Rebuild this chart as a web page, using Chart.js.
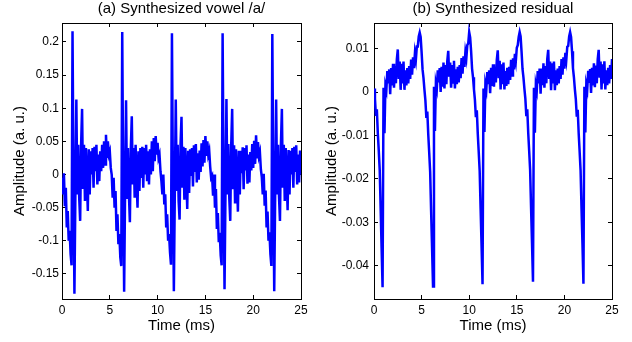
<!DOCTYPE html>
<html>
<head>
<meta charset="utf-8">
<script src="https://cdn.jsdelivr.net/npm/chart.js@4.4.1/dist/chart.umd.min.js"></script>
<style>
html,body{margin:0;padding:0;background:#fff;overflow:hidden}
#wrap{position:relative;width:632px;height:342px}
canvas{position:absolute;top:0}
</style>
</head>
<body>
<div id="wrap">
<canvas id="cA" width="316" height="342" style="left:0"></canvas>
<canvas id="cB" width="316" height="342" style="left:316px"></canvas>
</div>
<script>
// ---- sampling grid (ms) ----
const sampleStepMs = 0.1;
const sampleCount = 251; // 0 .. 25 ms

// ---- (a) synthesized vowel /a/ : one array per pitch period ----
const vowelP1 = [-0.005,-0.03,0.002,-0.048,-0.02,-0.08,-0.055,-0.1,-0.085,-0.12,-0.137,
  0.216,0.0,-0.18,-0.03,0.113,-0.03,0.045,-0.035,-0.07,0.045,0.099,
  -0.02,0.045,-0.04,0.04,-0.005,-0.055,0.038,-0.03,0.035,0.0,0.04,-0.02,0.042,0.005,0.045,-0.015,0.03,-0.01,0.035,0.005,0.045,0.01,0.05,0.015,0.06,0.025,0.05,0.03,0.035,0.01];
const vowelP2 = [0.0,-0.035,-0.005,-0.05,-0.025,-0.085,-0.06,-0.105,-0.09,-0.125,-0.138,
  0.215,-0.01,-0.177,-0.025,0.112,-0.035,0.04,-0.03,-0.072,0.04,0.088,
  -0.015,0.04,-0.035,0.045,-0.01,-0.05,0.035,-0.025,0.04,-0.005,0.042,-0.02,0.04,0.0,0.045,-0.01,0.035,-0.015,0.038,0.0,0.05,0.005,0.055,0.02,0.058,0.03,0.048,0.025,0.03,0.005];
const vowelP3 = [-0.01,-0.03,0.0,-0.045,-0.03,-0.08,-0.06,-0.1,-0.09,-0.118,-0.136,
  0.213,-0.005,-0.176,-0.03,0.113,-0.025,0.045,-0.04,-0.068,0.045,0.087,
  -0.02,0.042,-0.038,0.04,0.0,-0.052,0.036,-0.028,0.038,-0.002,0.04,-0.018,0.044,0.004,0.046,-0.012,0.032,-0.008,0.036,0.004,0.047,0.012,0.052,0.018,0.058,0.028,0.05,0.03,0.036,0.012,-0.005];
const vowelP4 = [-0.002,-0.032,0.0,-0.05,-0.022,-0.082,-0.058,-0.102,-0.088,-0.122,-0.137,
  0.213,0.0,-0.173,-0.028,0.114,-0.03,0.046,-0.036,-0.07,0.044,0.099,
  -0.022,0.044,-0.042,0.038,-0.006,-0.056,0.036,-0.03,0.036,0.002,0.041,-0.022,0.04,0.006,0.044,-0.014,0.03,-0.012,0.034,0.006,0.046,0.01,0.051,0.016,0.059,0.026,0.049,0.028,0.034,0.008];
const vowelP5 = [-0.004,-0.03,0.001,-0.047,-0.024,-0.08,-0.056,-0.1,-0.087,-0.12,-0.138,
  0.212,-0.004,-0.176,-0.03,0.113,-0.03,0.045,-0.034,-0.07,0.045,0.099,
  -0.02,0.045,-0.04,0.04,-0.004,-0.054,0.037,-0.03,0.036,0.0,0.04,-0.02,0.042,0.004,0.044,-0.015,0.03,-0.012,0.036,0.0];

// ---- (b) synthesized residual : one array per pitch period ----
const residP1 = [0.0008,-0.0015,-0.0055,-0.004,-0.0095,-0.0135,-0.018,-0.027,-0.036,
  -0.045,
  0.001,-0.0095,0.0015,0.0005,0.0048,0.002,0.0052,-0.0005,0.0055,0.0015,0.0065,0.001,0.006,0.002,0.0075,0.0098,0.003,0.007,0.0005,0.0065,0.002,0.007,0.0005,0.005,0.0015,0.0055,0.002,0.006,0.003,0.0075,0.004,0.008,0.0055,0.009,0.0075,0.0105,0.0105,0.0128];
const residP2 = [0.0137,0.0127,0.0092,0.0052,0.0032,0.0005,-0.002,-0.006,-0.0045,-0.0098,-0.014,-0.0185,-0.0275,-0.036,
  -0.0448,
  0.0012,-0.009,0.002,0.0008,0.005,0.0022,0.0055,0.0,0.0058,0.0012,0.0068,0.0008,0.0062,0.0018,0.0072,0.0095,0.0035,0.0068,0.001,0.0062,0.0022,0.0072,0.0008,0.0052,0.0018,0.0058,0.0022,0.0062,0.0032,0.0078,0.0042,0.0082,0.0058,0.0092,0.0078,0.0108,0.0112];
const residP3 = [0.0138,0.0126,0.0094,0.0054,0.0034,0.0006,-0.0018,-0.0058,-0.0042,-0.0096,-0.0138,-0.0182,-0.027,-0.0355,
  -0.0443,
  0.0008,-0.0092,0.0018,0.0006,0.0046,0.0018,0.005,-0.0003,0.0056,0.0014,0.0064,0.0012,0.0058,0.0022,0.0074,0.0096,0.0032,0.0072,0.0006,0.0064,0.0018,0.0068,0.0006,0.0048,0.0014,0.0056,0.0018,0.0058,0.0028,0.0074,0.0038,0.0078,0.0052,0.0088,0.0072,0.0102,0.0108,0.0127];
const residP4 = [0.0138,0.0128,0.0093,0.0053,0.0033,0.0007,-0.0016,-0.0056,-0.004,-0.0094,-0.0136,-0.018,-0.0268,-0.035,
  -0.0437,
  0.001,-0.0094,0.0016,0.0004,0.0048,0.002,0.0054,-0.0004,0.0054,0.0016,0.0066,0.001,0.006,0.002,0.0076,0.0097,0.003,0.007,0.0004,0.0066,0.002,0.007,0.0004,0.005,0.0016,0.0054,0.002,0.006,0.003,0.0076,0.004,0.008,0.0054,0.009,0.0074,0.0104,0.0106,0.0128];
const residP5 = [0.0138,0.0127,0.0094,0.0055,0.0034,0.0006,-0.0017,-0.0057,-0.0041,-0.0095,-0.0137,-0.0181,-0.027,-0.0352,
  -0.0442,
  0.0012,-0.0093,0.0017,0.0006,0.0049,0.0021,0.0053,-0.0002,0.0056,0.0015,0.0066,0.0011,0.0061,0.002,0.0075,0.0097,0.0033,0.007,0.0006,0.0064,0.002,0.0071,0.0006,0.005,0.0016,0.0056,0.002,0.0062,0.003,0.0076];

// ---- tick labels ----
const xTicks = [0, 5, 10, 15, 20, 25];
const yTicksA = [-0.15, -0.1, -0.05, 0, 0.05, 0.1, 0.15, 0.2];
const yTicksB = [-0.04, -0.03, -0.02, -0.01, 0, 0.01];

const vowel = [].concat(vowelP1, vowelP2, vowelP3, vowelP4, vowelP5);
const resid = [].concat(residP1, residP2, residP3, residP4, residP5);
const timeMs = Array.from({length: sampleCount}, (_, i) => +(i * sampleStepMs).toFixed(2));

const FONT = "'Liberation Sans', Arial, Helvetica, sans-serif";

function tickGrid() {
  return {display: true, drawOnChartArea: false, drawTicks: true, tickLength: -4, color: '#000', lineWidth: 1};
}

function makeChart(id, cfg) {
  const data = timeMs.map((t, i) => ({x: t, y: cfg.values[i]}));
  const setX = s => { s.ticks = xTicks.map(v => ({value: v})); };
  const setY = s => { s.ticks = cfg.yTicks.map(v => ({value: v})); };
  return new Chart(document.getElementById(id), {
    type: 'line',
    data: {datasets: [{data, xAxisID: 'x', yAxisID: 'y', borderColor: '#0000ff', borderWidth: 2.5, pointRadius: 0, tension: 0, fill: false}]},
    options: {
      responsive: false,
      animation: false,
      devicePixelRatio: 1,
      layout: {padding: {left: 0, right: cfg.padRight, top: 0, bottom: 0}},
      plugins: {
        legend: {display: false},
        tooltip: {enabled: false},
        title: {display: true, text: cfg.title, fullSize: false, color: '#000',
          font: {family: FONT, size: 15, weight: 'normal'}, padding: {top: 0, bottom: 5}}
      },
      scales: {
        x: {
          type: 'linear', position: 'bottom', min: 0, max: 25,
          afterBuildTicks: setX,
          afterFit: s => { s.height = 43; },
          grid: tickGrid(), border: {display: true, color: '#000', width: 1},
          ticks: {color: '#000', font: {family: FONT, size: 12}, padding: 8, maxRotation: 0,
            callback: v => String(v)},
          title: {display: true, text: 'Time (ms)', color: '#000',
            font: {family: FONT, size: 15}, padding: {top: 0, bottom: 7.5}}
        },
        x2: {
          type: 'linear', position: 'top', min: 0, max: 25,
          afterBuildTicks: setX,
          afterFit: s => { s.height = 0; },
          grid: tickGrid(), border: {display: true, color: '#000', width: 1},
          ticks: {display: false}
        },
        y: {
          type: 'linear', position: 'left', min: cfg.yMin, max: cfg.yMax,
          afterBuildTicks: setY,
          afterFit: s => { s.width = cfg.yWidth; },
          grid: tickGrid(), border: {display: true, color: '#000', width: 1},
          ticks: {color: '#000', font: {family: FONT, size: 12}, padding: cfg.yTickPad + 4,
            callback: v => String(+v.toFixed(3))},
          title: {display: true, text: 'Amplitude (a. u.)', color: '#000',
            font: {family: FONT, size: 15}, padding: {top: cfg.yTitlePad, bottom: 0}}
        },
        y2: {
          type: 'linear', position: 'right', min: cfg.yMin, max: cfg.yMax,
          afterBuildTicks: setY,
          afterFit: s => { s.width = 0; },
          grid: tickGrid(), border: {display: true, color: '#000', width: 1},
          ticks: {display: false}
        }
      }
    }
  });
}

makeChart('cA', {title: '(a) Synthesized vowel /a/', values: vowel, yMin: -0.1878, yMax: 0.2286,
  yTicks: yTicksA, yWidth: 62, yTitlePad: 11, yTickPad: 3, padRight: 15});
makeChart('cB', {title: '(b) Synthesized residual', values: resid, yMin: -0.0477, yMax: 0.0159,
  yTicks: yTicksB, yWidth: 58, yTitlePad: 6.5, yTickPad: 5, padRight: 20});
</script>
</body>
</html>
